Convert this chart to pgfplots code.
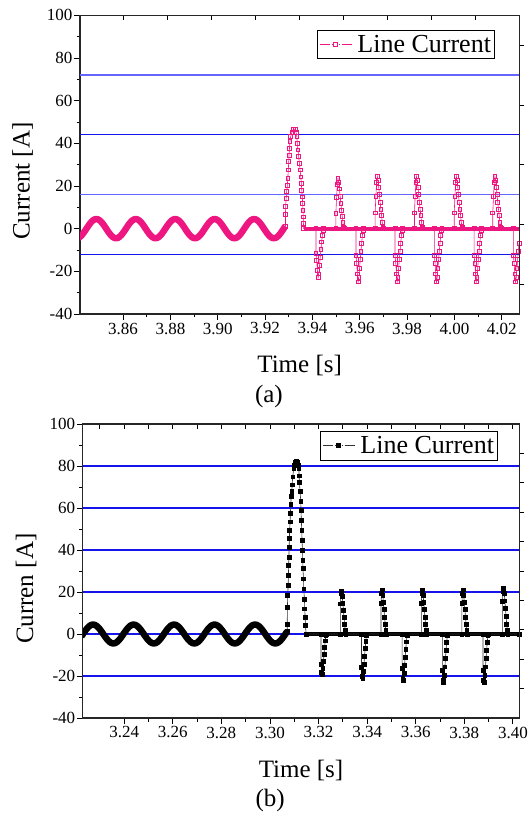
\documentclass[border=0pt]{standalone}
\usepackage{fontspec}
\setmainfont{Liberation Serif}
\usepackage{pgfplots}
\pgfplotsset{compat=1.18}

\definecolor{pinkc}{RGB}{238,22,128}
\definecolor{gridlt}{RGB}{100,100,255}
\definecolor{griddk}{RGB}{20,20,235}

\pgfplotsset{
  curstyle/.style={
    scale only axis, clip mode=individual,
    ymin=-40, ymax=100,
    ytick={-40,-20,0,20,40,60,80,100},
    minor x tick num=1, minor y tick num=1,
    tick align=outside, xtick pos=left, ytick pos=left,
    major tick length=6pt, minor tick length=3.5pt,
    tick style={black, line width=0.9pt},
    axis line style={black!85, line width=1.1pt},
    /pgf/number format/assume math mode=true,
    ticklabel style={font=\fontsize{17}{19}\selectfont},
    yticklabel style={inner sep=1.5pt},
    xticklabel style={inner sep=2.5pt, /pgf/number format/.cd, fixed, fixed zerofill, precision=2},
    scaled x ticks=false,
    label style={font=\fontsize{25}{27}\selectfont},
    legend style={draw=black, line width=1pt, fill=white,
      font=\fontsize{26}{28}\selectfont, inner xsep=2pt, inner ysep=3.5pt,
      nodes={inner sep=1.5pt}, column sep=4pt, anchor=north east},
    legend image code/.code={
      \draw[#1, mark=none, dash pattern=on 10pt off 2pt on 1pt off 6pt on 1pt off 2pt on 10pt off 0pt] (0pt,0pt) -- (32pt,0pt);
      \draw[#1] plot coordinates {(16pt,0pt)};
    },
  },
  overlay/.style={
    scale only axis, ymin=-40, ymax=100,
    xticklabels={}, yticklabels={},
    tick style={black, line width=0.9pt},
    axis line style={black!85, line width=1.1pt},
    major tick length=5pt,
  },
}

\begin{document}
\begin{tikzpicture}
\useasboundingbox (0,0) rectangle (528pt,816pt);

% ---------- (a) ----------
\begin{axis}[curstyle,
  at={(80pt,502pt)}, anchor=south west,
  width=439.3pt, height=298.7pt,
  xmin=3.8418, xmax=4.0274,
  xtick={3.86,3.88,3.90,3.92,3.94,3.96,3.98,4.00,4.02},
  xlabel={Time [s]}, ylabel={Current [A]},
  xlabel style={at={(axis description cs:0.5,-0.174)}, anchor=center},
  ylabel style={at={(axis description cs:-0.1307,0.445)}, anchor=center},
  legend style={at={(axis description cs:0.9447,0.9518)}},
]
\addplot[gridlt, line width=1.4pt, forget plot] coordinates {(3.8,72) (4.1,72)};
\addplot[gridlt, line width=1.4pt, forget plot] coordinates {(3.8,16) (4.1,16)};
\addplot[griddk, line width=1.2pt, forget plot] coordinates {(3.8,44) (4.1,44)};
\addplot[griddk, line width=1.2pt, forget plot] coordinates {(3.8,-12) (4.1,-12)};

% steady state, drawn as the dense band of marks
\addplot[pinkc, line width=6.5pt, line join=round, forget plot] coordinates {
(3.84106,-4.35) (3.84176,-3.90) (3.84245,-3.18) (3.84314,-2.25) (3.84384,-1.16) (3.84453,0) (3.84523,1.16) (3.84592,2.25) (3.84662,3.18) (3.84731,3.90) (3.84801,4.35)
(3.84870,4.50) (3.84939,4.35) (3.85009,3.90) (3.85078,3.18) (3.85148,2.25) (3.85217,1.16) (3.85287,0) (3.85356,-1.16) (3.85426,-2.25) (3.85495,-3.18) (3.85564,-3.90) (3.85634,-4.35) (3.85703,-4.50) (3.85773,-4.35) (3.85842,-3.90) (3.85912,-3.18) (3.85981,-2.25) (3.86051,-1.16) (3.86120,0) (3.86189,1.16) (3.86259,2.25) (3.86328,3.18) (3.86398,3.90) (3.86467,4.35)
(3.86537,4.50) (3.86606,4.35) (3.86676,3.90) (3.86745,3.18) (3.86815,2.25) (3.86884,1.16) (3.86953,0) (3.87023,-1.16) (3.87092,-2.25) (3.87162,-3.18) (3.87231,-3.90) (3.87301,-4.35) (3.87370,-4.50) (3.87440,-4.35) (3.87509,-3.90) (3.87578,-3.18) (3.87648,-2.25) (3.87717,-1.16) (3.87787,0) (3.87856,1.16) (3.87926,2.25) (3.87995,3.18) (3.88064,3.90) (3.88134,4.35)
(3.88203,4.50) (3.88273,4.35) (3.88342,3.90) (3.88412,3.18) (3.88481,2.25) (3.88551,1.16) (3.88620,0) (3.88689,-1.16) (3.88759,-2.25) (3.88828,-3.18) (3.88898,-3.90) (3.88967,-4.35) (3.89037,-4.50) (3.89106,-4.35) (3.89176,-3.90) (3.89245,-3.18) (3.89314,-2.25) (3.89384,-1.16) (3.89453,0) (3.89523,1.16) (3.89592,2.25) (3.89662,3.18) (3.89731,3.90) (3.89801,4.35)
(3.89870,4.50) (3.89939,4.35) (3.90009,3.90) (3.90078,3.18) (3.90148,2.25) (3.90217,1.16) (3.90287,0) (3.90356,-1.16) (3.90426,-2.25) (3.90495,-3.18) (3.90564,-3.90) (3.90634,-4.35) (3.90703,-4.50) (3.90773,-4.35) (3.90842,-3.90) (3.90912,-3.18) (3.90981,-2.25) (3.91051,-1.16) (3.91120,0) (3.91189,1.16) (3.91259,2.25) (3.91328,3.18) (3.91398,3.90) (3.91467,4.35)
(3.91537,4.50) (3.91606,4.35) (3.91676,3.90) (3.91745,3.18) (3.91815,2.25) (3.91884,1.16) (3.91953,0) (3.92023,-1.16) (3.92092,-2.25) (3.92162,-3.18) (3.92231,-3.90) (3.92301,-4.35) (3.92370,-4.50) (3.92440,-4.35) (3.92509,-3.90) (3.92578,-3.18) (3.92648,-2.25) (3.92717,-1.16) (3.92787,0) (3.92856,1.16)
};
\addplot[pinkc, line width=4pt, forget plot] coordinates {(3.9363,0) (4.0274,0)};

\addplot[pinkc, line width=0.6pt, mark=square, mark size=1.9pt,
  mark options={solid, fill=pinkc!30, line width=0.8pt}] coordinates {
(3.9286,1.2) (3.9286,6.8) (3.9287,10.6) (3.9289,14.2) (3.9291,17.3) (3.9294,20.4) (3.9296,23.6) (3.9298,27.5) (3.9300,31.4) (3.9301,34.5) (3.9303,37.6) (3.9305,40.8) (3.9308,43.1) (3.9313,45.0) (3.9319,46.6) (3.9327,46.6) (3.9331,45.0) (3.9334,43.1) (3.9336,40.0) (3.9339,36.9) (3.9342,33.7) (3.9345,30.6) (3.9348,27.5) (3.9351,24.3) (3.9353,21.2) (3.9355,18.1) (3.9357,14.9) (3.9359,11.8) (3.9360,8.7) (3.9361,5.5) (3.9362,2.4) (3.9363,0)
(3.9415,0) (3.9415,-11.5) (3.9418,-15.0) (3.9421,-19.6) (3.9424,-23.0) (3.9427,-21.2) (3.9430,-17.3) (3.9433,-13.3) (3.9436,-9.7) (3.9439,-6.2) (3.9442,-3.0) (3.9445,-0.7) (3.9447,0)
(3.9499,0) (3.9499,7.1) (3.9502,14.6) (3.9505,20.7) (3.9508,23.5) (3.9511,21.6) (3.9514,18.6) (3.9517,15.3) (3.9520,11.8) (3.9523,8.7) (3.9526,5.9) (3.9529,2.8) (3.9532,0.5) (3.9534,0)
(3.9584,0) (3.9584,-12.5) (3.9587,-16.2) (3.9590,-21.2) (3.9593,-25.0) (3.9596,-23.0) (3.9599,-18.8) (3.9602,-14.5) (3.9605,-10.5) (3.9608,-6.8) (3.9611,-3.2) (3.9614,-0.8) (3.9616,0)
(3.9665,0) (3.9665,7.4) (3.9668,15.2) (3.9671,21.6) (3.9674,24.5) (3.9677,22.5) (3.9680,19.4) (3.9683,15.9) (3.9686,12.3) (3.9689,9.1) (3.9692,6.1) (3.9695,2.9) (3.9698,0.5) (3.9700,0)
(3.9749,0) (3.9749,-12.5) (3.9752,-16.2) (3.9755,-21.2) (3.9758,-25.0) (3.9761,-23.0) (3.9764,-18.8) (3.9767,-14.5) (3.9770,-10.5) (3.9773,-6.8) (3.9776,-3.2) (3.9779,-0.8) (3.9781,0)
(3.9831,0) (3.9831,7.4) (3.9834,15.2) (3.9837,21.6) (3.9840,24.5) (3.9843,22.5) (3.9846,19.4) (3.9849,15.9) (3.9852,12.3) (3.9855,9.1) (3.9858,6.1) (3.9861,2.9) (3.9864,0.5) (3.9866,0)
(3.9915,0) (3.9915,-12.5) (3.9918,-16.2) (3.9921,-21.2) (3.9924,-25.0) (3.9927,-23.0) (3.9930,-18.8) (3.9933,-14.5) (3.9936,-10.5) (3.9939,-6.8) (3.9942,-3.2) (3.9945,-0.8) (3.9947,0)
(3.9999,0) (3.9999,7.4) (4.0002,15.2) (4.0005,21.6) (4.0008,24.5) (4.0011,22.5) (4.0014,19.4) (4.0017,15.9) (4.0020,12.3) (4.0023,9.1) (4.0026,6.1) (4.0029,2.9) (4.0032,0.5) (4.0034,0)
(4.0083,0) (4.0083,-12.5) (4.0086,-16.2) (4.0089,-21.2) (4.0092,-25.0) (4.0095,-23.0) (4.0098,-18.8) (4.0101,-14.5) (4.0104,-10.5) (4.0107,-6.8) (4.0110,-3.2) (4.0113,-0.8) (4.0115,0)
(4.0162,0) (4.0162,7.4) (4.0165,15.2) (4.0168,21.6) (4.0171,24.5) (4.0174,22.5) (4.0177,19.4) (4.0180,15.9) (4.0183,12.3) (4.0186,9.1) (4.0189,6.1) (4.0192,2.9) (4.0195,0.5) (4.0197,0)
(4.0249,0) (4.0249,-12.5) (4.0252,-16.2) (4.0255,-21.2) (4.0258,-25.0) (4.0261,-23.0) (4.0264,-18.8) (4.0267,-14.5) (4.0270,-10.5) (4.0273,-6.8) (4.0276,-3.2)
};
\addlegendentry{Line Current}
\node[font=\fontsize{25}{27}\selectfont] at (axis description cs:0.430,-0.2745) {(a)};
\end{axis}

% odd top and right ticks of (a)
\begin{axis}[overlay, at={(80pt,502pt)}, anchor=south west,
  width=439.3pt, height=298.7pt, xmin=3.8418, xmax=4.0274,
  axis x line*=top, axis y line=none, tick align=inside,
  xtick={3.8601,3.8788,3.8974,3.9160,3.9344,3.9530,3.9716,3.9904,4.0087}]
\end{axis}
\begin{axis}[overlay, at={(80pt,502pt)}, anchor=south west,
  width=439.3pt, height=298.7pt, xmin=3.8418, xmax=4.0274,
  axis y line*=right, axis x line=none, tick align=outside,
  ytick={85.7,57.8,29.9,2.0,-26.1}]
\end{axis}

% ---------- (b) ----------
\begin{axis}[curstyle,
  at={(82.9pt,98pt)}, anchor=south west,
  width=436.3pt, height=294pt,
  xmin=3.2230, xmax=3.4026,
  xtick={3.24,3.26,3.28,3.30,3.32,3.34,3.36,3.38,3.40},
  xlabel={Time [s]}, ylabel={Curren [A]},
  xlabel style={at={(axis description cs:0.5,-0.177)}, anchor=center},
  ylabel style={at={(axis description cs:-0.130,0.4395)}, anchor=center},
  legend style={at={(axis description cs:0.9514,0.9768)}},
]
\addplot[griddk, line width=1.2pt, forget plot] coordinates {(3.2,80) (3.5,80)};
\addplot[griddk, line width=1.2pt, forget plot] coordinates {(3.2,60) (3.5,60)};
\addplot[griddk, line width=1.2pt, forget plot] coordinates {(3.2,40) (3.5,40)};
\addplot[griddk, line width=1.2pt, forget plot] coordinates {(3.2,20) (3.5,20)};
\addplot[griddk, line width=1.2pt, forget plot] coordinates {(3.2,0) (3.5,0)};
\addplot[griddk, line width=1.2pt, forget plot] coordinates {(3.2,-20) (3.5,-20)};

\addplot[black, line width=6.5pt, line join=round, forget plot] coordinates {
(3.22234,-1.16) (3.22303,0) (3.22373,1.16) (3.22442,2.25) (3.22512,3.18) (3.22581,3.90) (3.22651,4.35)
(3.22720,4.50) (3.22789,4.35) (3.22859,3.90) (3.22928,3.18) (3.22998,2.25) (3.23067,1.16) (3.23137,0) (3.23206,-1.16) (3.23276,-2.25) (3.23345,-3.18) (3.23414,-3.90) (3.23484,-4.35) (3.23553,-4.50) (3.23623,-4.35) (3.23692,-3.90) (3.23762,-3.18) (3.23831,-2.25) (3.23901,-1.16) (3.23970,0) (3.24039,1.16) (3.24109,2.25) (3.24178,3.18) (3.24248,3.90) (3.24317,4.35)
(3.24387,4.50) (3.24456,4.35) (3.24526,3.90) (3.24595,3.18) (3.24665,2.25) (3.24734,1.16) (3.24803,0) (3.24873,-1.16) (3.24942,-2.25) (3.25012,-3.18) (3.25081,-3.90) (3.25151,-4.35) (3.25220,-4.50) (3.25290,-4.35) (3.25359,-3.90) (3.25428,-3.18) (3.25498,-2.25) (3.25567,-1.16) (3.25637,0) (3.25706,1.16) (3.25776,2.25) (3.25845,3.18) (3.25914,3.90) (3.25984,4.35)
(3.26053,4.50) (3.26123,4.35) (3.26192,3.90) (3.26262,3.18) (3.26331,2.25) (3.26401,1.16) (3.26470,0) (3.26539,-1.16) (3.26609,-2.25) (3.26678,-3.18) (3.26748,-3.90) (3.26817,-4.35) (3.26887,-4.50) (3.26956,-4.35) (3.27026,-3.90) (3.27095,-3.18) (3.27164,-2.25) (3.27234,-1.16) (3.27303,0) (3.27373,1.16) (3.27442,2.25) (3.27512,3.18) (3.27581,3.90) (3.27651,4.35)
(3.27720,4.50) (3.27789,4.35) (3.27859,3.90) (3.27928,3.18) (3.27998,2.25) (3.28067,1.16) (3.28137,0) (3.28206,-1.16) (3.28276,-2.25) (3.28345,-3.18) (3.28414,-3.90) (3.28484,-4.35) (3.28553,-4.50) (3.28623,-4.35) (3.28692,-3.90) (3.28762,-3.18) (3.28831,-2.25) (3.28901,-1.16) (3.28970,0) (3.29039,1.16) (3.29109,2.25) (3.29178,3.18) (3.29248,3.90) (3.29317,4.35)
(3.29387,4.50) (3.29456,4.35) (3.29526,3.90) (3.29595,3.18) (3.29665,2.25) (3.29734,1.16) (3.29803,0) (3.29873,-1.16) (3.29942,-2.25) (3.30012,-3.18) (3.30081,-3.90) (3.30151,-4.35) (3.30220,-4.50) (3.30290,-4.35) (3.30359,-3.90) (3.30428,-3.18) (3.30498,-2.25) (3.30567,-1.16) (3.30637,0) (3.30706,1.16)
};
\addplot[black, line width=4.5pt, forget plot] coordinates {(3.3149,0) (3.4026,0)};

\addplot[black!80, line width=0.6pt, mark=square*, mark size=1.9pt,
  mark options={solid, fill=black, draw=black}] coordinates {
(3.3071,1.2) (3.3071,4.8) (3.3072,12.7) (3.3073,18.3) (3.3075,23.1) (3.3076,27.9) (3.3077,32.7) (3.3078,36.7) (3.3079,41.1) (3.3080,45.5) (3.3081,49.4) (3.3083,53.4) (3.3084,57.4) (3.3086,61.7) (3.3087,65.4) (3.3090,67.8) (3.3091,71.0) (3.3094,74.9) (3.3098,78.9) (3.3100,80.3) (3.3102,81.3) (3.3105,81.9) (3.3108,82.1) (3.3111,82.0) (3.3114,81.3) (3.3116,80.3) (3.3119,78.9) (3.3120,75.3) (3.3121,72.3) (3.3124,67.8) (3.3127,63.0) (3.3128,59.0) (3.3129,54.2) (3.3131,49.4) (3.3132,44.7) (3.3134,39.9) (3.3135,35.1) (3.3136,31.1) (3.3138,26.3) (3.3139,21.5) (3.3142,16.7) (3.3143,12.0) (3.3145,8.0) (3.3146,4.0) (3.3149,0)
(3.32100,0) (3.32100,-14.3) (3.32125,-18.1) (3.32150,-19.0) (3.32175,-16.2) (3.32200,-12.9) (3.32225,-9.5) (3.32250,-6.3) (3.32275,-3.2) (3.32300,-0.8) (3.32320,0)
(3.32900,0) (3.32900,14.4) (3.32925,19.1) (3.32950,20.5) (3.32975,18.0) (3.33000,14.8) (3.33025,11.3) (3.33050,7.8) (3.33075,4.5) (3.33100,1.6) (3.33120,0)
(3.33770,0) (3.33770,-15.8) (3.33795,-20.0) (3.33820,-21.0) (3.33845,-17.9) (3.33870,-14.3) (3.33895,-10.5) (3.33920,-6.9) (3.33945,-3.6) (3.33970,-0.8) (3.33990,0)
(3.34570,0) (3.34570,14.7) (3.34595,19.5) (3.34620,21.0) (3.34645,18.5) (3.34670,15.1) (3.34695,11.6) (3.34720,8.0) (3.34745,4.6) (3.34770,1.7) (3.34790,0)
(3.35440,0) (3.35440,-16.5) (3.35465,-20.9) (3.35490,-22.0) (3.35515,-18.7) (3.35540,-15.0) (3.35565,-11.0) (3.35590,-7.3) (3.35615,-3.7) (3.35640,-0.9) (3.35660,0)
(3.36230,0) (3.36230,14.7) (3.36255,19.5) (3.36280,21.0) (3.36305,18.5) (3.36330,15.1) (3.36355,11.6) (3.36380,8.0) (3.36405,4.6) (3.36430,1.7) (3.36450,0)
(3.37100,0) (3.37100,-17.3) (3.37125,-21.9) (3.37150,-23.0) (3.37175,-19.6) (3.37200,-15.6) (3.37225,-11.5) (3.37250,-7.6) (3.37275,-3.9) (3.37300,-0.9) (3.37320,0)
(3.37900,0) (3.37900,14.7) (3.37925,19.5) (3.37950,21.0) (3.37975,18.5) (3.38000,15.1) (3.38025,11.6) (3.38050,8.0) (3.38075,4.6) (3.38100,1.7) (3.38120,0)
(3.38770,0) (3.38770,-17.3) (3.38795,-21.9) (3.38820,-23.0) (3.38845,-19.6) (3.38870,-15.6) (3.38895,-11.5) (3.38920,-7.6) (3.38945,-3.9) (3.38970,-0.9) (3.38990,0)
(3.39570,0) (3.39570,15.4) (3.39595,20.5) (3.39620,22.0) (3.39645,19.4) (3.39670,15.8) (3.39695,12.1) (3.39720,8.4) (3.39745,4.8) (3.39770,1.8) (3.39790,0)
(3.4026,0)
};
\addlegendentry{Line Current}
\node[font=\fontsize{25}{27}\selectfont] at (axis description cs:0.429,-0.279) {(b)};
\end{axis}

\begin{axis}[overlay, at={(82.9pt,98pt)}, anchor=south west,
  width=436.3pt, height=294pt, xmin=3.2230, xmax=3.4026,
  axis x line*=top, axis y line=none, tick align=inside,
  xtick={3.23,3.24,3.25,3.26,3.27,3.28,3.29,3.30,3.31,3.32,3.33,3.34,3.35,3.36,3.37,3.38,3.39,3.40}]
\end{axis}
\begin{axis}[overlay, at={(82.9pt,98pt)}, anchor=south west,
  width=436.3pt, height=294pt, xmin=3.2230, xmax=3.4026,
  axis y line*=right, axis x line=none, tick align=outside,
  ytick={86,72,58,44,30,16,2,-12,-26}]
\end{axis}

\end{tikzpicture}
\end{document}
